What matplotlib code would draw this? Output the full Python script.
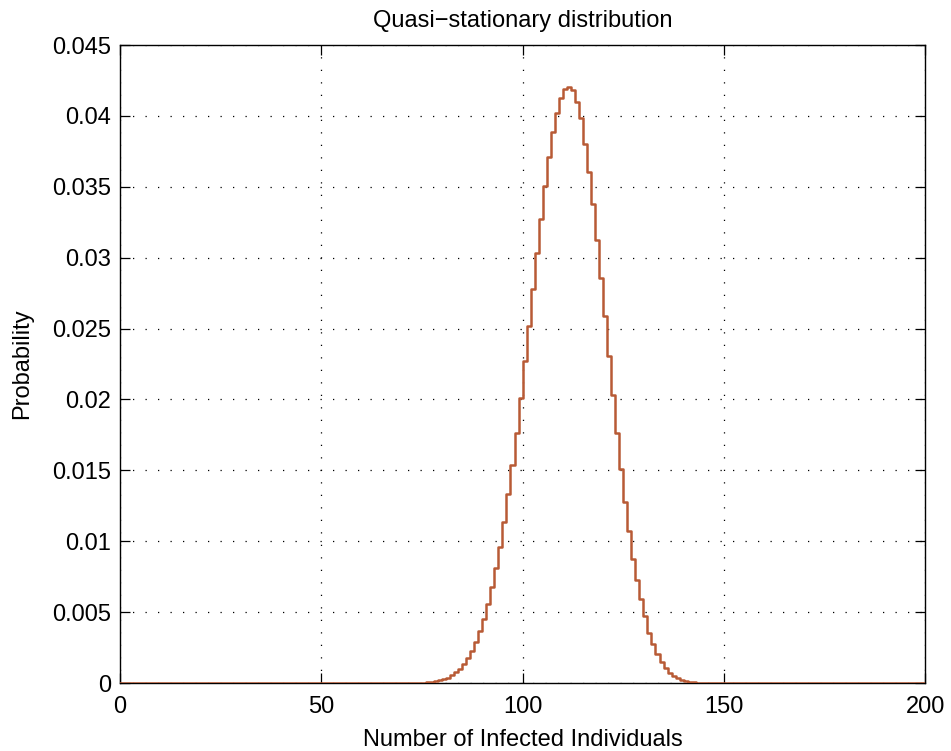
import numpy as np
import matplotlib
matplotlib.use("Agg")
import matplotlib.pyplot as plt

plt.rcParams['font.family'] = ['Liberation Sans', 'DejaVu Sans']

# Number of infected individuals (0..200) and quasi-stationary probabilities
n_values = np.arange(0, 201)
first_nonzero = 73
nonzero_probs = [
    0.00001, 0.00002, 0.00003, 0.00005, 0.00008, 0.00012, 0.00018, 0.00026,   # 73-80
    0.00038, 0.00054, 0.00075, 0.00102, 0.00135, 0.00177, 0.00228, 0.00290,   # 81-88
    0.00365, 0.00455, 0.00560, 0.00680, 0.00812, 0.00963, 0.01135, 0.01331,   # 89-96
    0.01537, 0.01761, 0.02008, 0.02268, 0.02521, 0.02776, 0.03035, 0.03276,   # 97-104
    0.03508, 0.03713, 0.03885, 0.04023, 0.04129, 0.04193, 0.04204, 0.04181,   # 105-112
    0.04098, 0.03985, 0.03803, 0.03607, 0.03378, 0.03125, 0.02858, 0.02587,   # 113-120
    0.02304, 0.02033, 0.01766, 0.01513, 0.01277, 0.01072, 0.00876, 0.00729,   # 121-128
    0.00593, 0.00474, 0.00356, 0.00274, 0.00203, 0.00149, 0.00108, 0.00073,   # 129-136
    0.00050, 0.00033, 0.00021, 0.00013, 0.00008, 0.00005, 0.00003, 0.00002,   # 137-144
    0.00001,                                                                  # 145
]
probabilities = np.zeros(len(n_values))
probabilities[first_nonzero:first_nonzero + len(nonzero_probs)] = nonzero_probs

x_ticks = [0, 50, 100, 150, 200]
y_ticks = [0, 0.005, 0.01, 0.015, 0.02, 0.025, 0.03, 0.035, 0.04, 0.045]
y_tick_labels = ['0', '0.005', '0.01', '0.015', '0.02', '0.025', '0.03', '0.035', '0.04', '0.045']

fig = plt.figure(figsize=(9.51, 7.51), dpi=100)
fig.patch.set_facecolor('white')
ax = fig.add_axes([0.126, 0.0905, 0.847, 0.8495])

ax.step(n_values, probabilities, where='post', color='#b85a35', linewidth=1.8, zorder=3)

ax.set_xlim(0, 200)
ax.set_ylim(0, 0.045)
ax.set_xticks(x_ticks)
ax.set_yticks(y_ticks)
ax.set_yticklabels(y_tick_labels)
ax.tick_params(direction='in', top=True, right=True, length=7, width=0.9,
               labelsize=17)
ax.tick_params(axis='x', pad=9)
ax.tick_params(axis='y', pad=6)
ax.grid(True, color='black', linestyle=(0, (1, 9)), linewidth=0.9)
for s in ax.spines.values():
    s.set_linewidth(1.0)

ax.set_xlabel('Number of Infected Individuals', fontsize=17, labelpad=8)
ax.set_ylabel('Probability', fontsize=17, labelpad=14)
ax.set_title('Quasi\u2212stationary distribution', fontsize=17, pad=13)

fig.savefig('out.png', dpi=100)
